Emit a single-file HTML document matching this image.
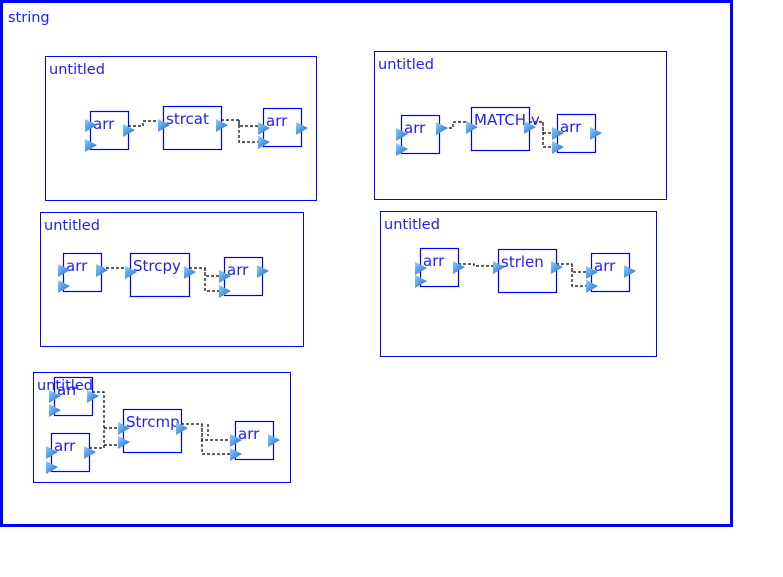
<!DOCTYPE html>
<html><head><meta charset="utf-8">
<style>
html,body{margin:0;padding:0;background:#fff;width:783px;height:577px;overflow:hidden}
svg{display:block;font-family:"DejaVu Sans","Liberation Sans",sans-serif}
</style></head>
<body>
<svg id="d" width="783" height="577" viewBox="0 0 783 577" xmlns="http://www.w3.org/2000/svg">
<defs>
<linearGradient id="pg" x1="0" y1="0" x2="1" y2="1">
<stop offset="0" stop-color="#8fd0ff"/><stop offset="1" stop-color="#1565d0"/></linearGradient>
</defs>
<rect x="1.5" y="1.5" width="730" height="524" fill="none" stroke="#0000ff" stroke-width="3"/>
<text x="8" y="22" font-size="14.5" fill="#2020ff">string</text>
</svg>
<script>
const svg=document.getElementById('d');
const NS='http://www.w3.org/2000/svg';
function mk(tag,attrs){const e=document.createElementNS(NS,tag);for(const k in attrs)e.setAttribute(k,attrs[k]);svg.appendChild(e);return e;}
const groups=[[45,56,271,144,49,74],[374,51,292,148,378,69],[40,212,263,134,44,230],[380,211,276,145,384,229],[33,372,257,110,37,390]];
groups.forEach(g=>{
 const r=mk('rect',{x:g[0]+.5,y:g[1]+.5,width:g[2],height:g[3],fill:'none',stroke:'#0000ff','stroke-width':1});
 
 
 const t=mk('text',{x:g[4],y:g[5],'font-size':14.5,fill:'#2020ff'});t.textContent='untitled';
 
 
});
const wires=[
 "M128,126H143V121H159","M221,120H239V126H259M239,120V142H259",
 "M439,128H453V122H467","M529,122H543V133H553M543,122V147H553",
 "M101,268H126","M189,268H205V276H220M205,268V291H220",
 "M458,264H474V266H494","M556,264H572V272H587M572,264V286H587",
 "M92,392H104V445H119M89,448H104V428H119","M181,424H202V440H231M202,424V454H231M208,424V436"
];
wires.forEach(d=>{
 const p=mk('path',{d:d,fill:'none',stroke:'#000','stroke-width':1.2,'stroke-dasharray':'3,2'});
 
 
});
const blocks=[
 [90,111,38,38,'arr',[[86,125],[86,145],[124,130]]],
 [163,106,58,43,'strcat',[[159,125],[217,125]]],
 [263,108,38,38,'arr',[[259,128],[259,142],[297,128]]],
 [401,115,38,38,'arr',[[397,134],[397,149],[437,128]]],
 [471,107,58,43,'MATCH v',[[467,127],[525,127]]],
 [557,114,38,38,'arr',[[553,133],[553,147],[591,133]]],
 [63,253,38,38,'arr',[[59,270],[59,286],[97,270]]],
 [130,253,59,43,'Strcpy',[[126,272],[185,272]]],
 [224,257,38,38,'arr',[[220,276],[220,291],[258,271]]],
 [420,248,38,38,'arr',[[416,268],[416,281],[454,267]]],
 [498,249,58,43,'strlen',[[494,267],[552,267]]],
 [591,253,38,38,'arr',[[587,272],[587,286],[625,271]]],
 [54,377,38,38,'arr',[[50,396],[50,410],[88,396]]],
 [51,433,38,38,'arr',[[47,452],[47,467],[85,452]]],
 [123,409,58,43,'Strcmp',[[119,428],[119,442],[177,428]]],
 [235,421,38,38,'arr',[[231,440],[231,454],[269,440]]]
];
blocks.forEach(b=>{
 const r=mk('rect',{x:b[0]+.5,y:b[1]+.5,width:b[2],height:b[3],fill:'none',stroke:'#0000ff','stroke-width':1.2});
 
 
 const t=mk('text',{x:b[0]+3,y:b[1]+18,'font-size':15,fill:'#2020ff'});t.textContent=b[4];
 
 
 b[5].forEach(p=>{
  const tri=mk('path',{d:`M${p[0]-1},${p[1]-6}L${p[0]+11},${p[1]}L${p[0]-1},${p[1]+7}Z`,fill:'url(#pg)'});
  
  
 });
});
</script>
</body></html>
